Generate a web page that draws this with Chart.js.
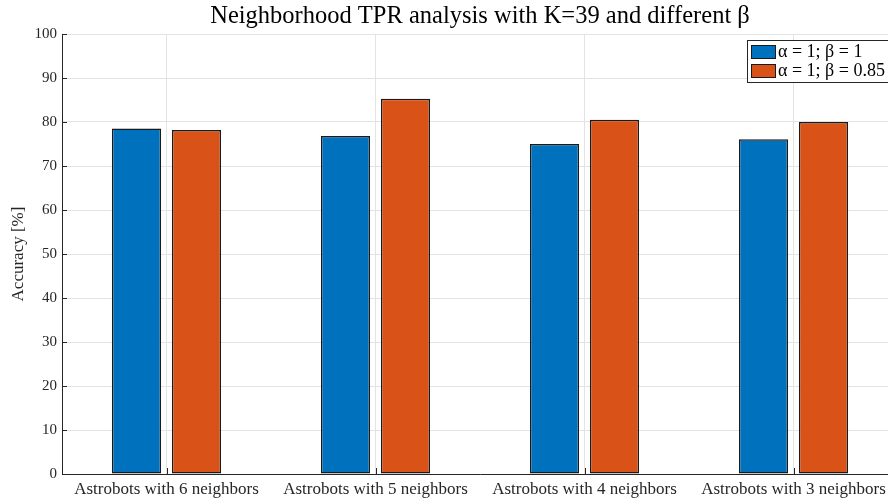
<!DOCTYPE html>
<html>
<head>
<meta charset="utf-8">
<script src="https://cdn.jsdelivr.net/npm/chart.js@4/dist/chart.umd.min.js"></script>
<style>
  html, body { margin: 0; padding: 0; overflow: hidden; background: #fff; width: 888px; height: 503px; }
  #c { display: block; }
</style>
</head>
<body>
<canvas id="c" width="898" height="503" style="width:898px;height:503px"></canvas>
<script>
const categories = ['Astrobots with 6 neighbors', 'Astrobots with 5 neighbors', 'Astrobots with 4 neighbors', 'Astrobots with 3 neighbors'];
const seriesBeta1 = [78.5, 76.8, 75.0, 76.1];
const seriesBeta085 = [78.2, 85.3, 80.5, 80.0];
const seriesLabels = ['α = 1; β = 1', 'α = 1; β = 0.85'];
const titleText = 'Neighborhood TPR analysis with K=39 and different β';
const yTitle = 'Accuracy [%]';

const SERIF = '"Liberation Serif", "DejaVu Serif", serif';
const AXIS = '#262626';
const GRID = '#e3e3e3';

const titlePlugin = {
  id: 'matTitle',
  afterDraw(chart) {
    const ctx = chart.ctx, a = chart.chartArea;
    ctx.save();
    ctx.font = '24.5px ' + SERIF;
    ctx.fillStyle = '#000';
    ctx.textAlign = 'center';
    ctx.textBaseline = 'alphabetic';
    ctx.fillText(titleText, (a.left + a.right) / 2, 23);
    ctx.restore();
  }
};

const ticksPlugin = {
  id: 'inTicks',
  afterDatasetsDraw(chart) {
    const ctx = chart.ctx, a = chart.chartArea;
    const ys = chart.scales.y, xs = chart.scales.x;
    ctx.save();
    ctx.strokeStyle = AXIS;
    ctx.lineWidth = 1;
    ys.ticks.forEach(t => {
      const y = Math.round(ys.getPixelForValue(t.value)) + 0.5;
      ctx.beginPath(); ctx.moveTo(a.left, y); ctx.lineTo(a.left + 5, y); ctx.stroke();
    });
    categories.forEach((c, i) => {
      const x = Math.round(xs.getPixelForValue(i)) + 0.5;
      ctx.beginPath(); ctx.moveTo(x, a.bottom); ctx.lineTo(x, a.bottom - 6); ctx.stroke();
    });
    ctx.restore();
  }
};

const legendPlugin = {
  id: 'matLegend',
  afterDraw(chart) {
    const ctx = chart.ctx;
    const x0 = 747.5, y0 = 40.5, w = 150, h = 42;
    ctx.save();
    ctx.fillStyle = '#fff';
    ctx.fillRect(x0, y0, w, h);
    ctx.strokeStyle = AXIS;
    ctx.lineWidth = 1;
    ctx.strokeRect(x0, y0, w, h);
    ctx.font = '18px ' + SERIF;
    ctx.textBaseline = 'middle';
    chart.data.datasets.forEach((ds, i) => {
      const sy = 45 + i * 19;
      ctx.fillStyle = ds.backgroundColor;
      ctx.fillRect(751, sy, 25, 14);
      ctx.strokeStyle = '#1a1a1a';
      ctx.strokeRect(751.5, sy + 0.5, 24, 13);
      ctx.fillStyle = '#000';
      ctx.fillText(ds.label, 778, sy + 7.5);
    });
    ctx.restore();
  }
};

new Chart(document.getElementById('c'), {
  type: 'bar',
  data: {
    labels: categories,
    datasets: [
      { label: seriesLabels[0], data: seriesBeta1, backgroundColor: '#0072BD', borderColor: '#1a1a1a', borderWidth: 1.5, borderSkipped: false, inflateAmount: 0 },
      { label: seriesLabels[1], data: seriesBeta085, backgroundColor: '#D95319', borderColor: '#1a1a1a', borderWidth: 1.5, borderSkipped: false, inflateAmount: 0 }
    ]
  },
  options: {
    responsive: false,
    animation: false,
    devicePixelRatio: 1,
    layout: { padding: { top: 34, right: 0, left: 0, bottom: 0 } },
    datasets: { bar: { categoryPercentage: 0.574, barPercentage: 0.82 } },
    plugins: {
      legend: { display: false },
      title: { display: false },
      tooltip: { enabled: false }
    },
    scales: {
      x: {
        grid: { display: true, color: GRID, drawTicks: false, offset: false },
        border: { display: true, color: AXIS, width: 1 },
        ticks: { color: AXIS, font: { family: SERIF, size: 17 }, padding: 5, maxRotation: 0, autoSkip: false },
        afterFit(s) { s.height = 29; }
      },
      y: {
        min: 0, max: 100,
        grid: { color: GRID, drawTicks: false },
        border: { display: true, color: AXIS, width: 1 },
        ticks: { stepSize: 10, color: AXIS, font: { family: SERIF, size: 15 }, padding: 5 },
        title: { display: true, text: yTitle, color: AXIS, font: { family: SERIF, size: 17 }, padding: { top: 8, bottom: 0 } },
        afterFit(s) { s.width = 62; }
      }
    }
  },
  plugins: [titlePlugin, ticksPlugin, legendPlugin]
});
</script>
</body>
</html>
